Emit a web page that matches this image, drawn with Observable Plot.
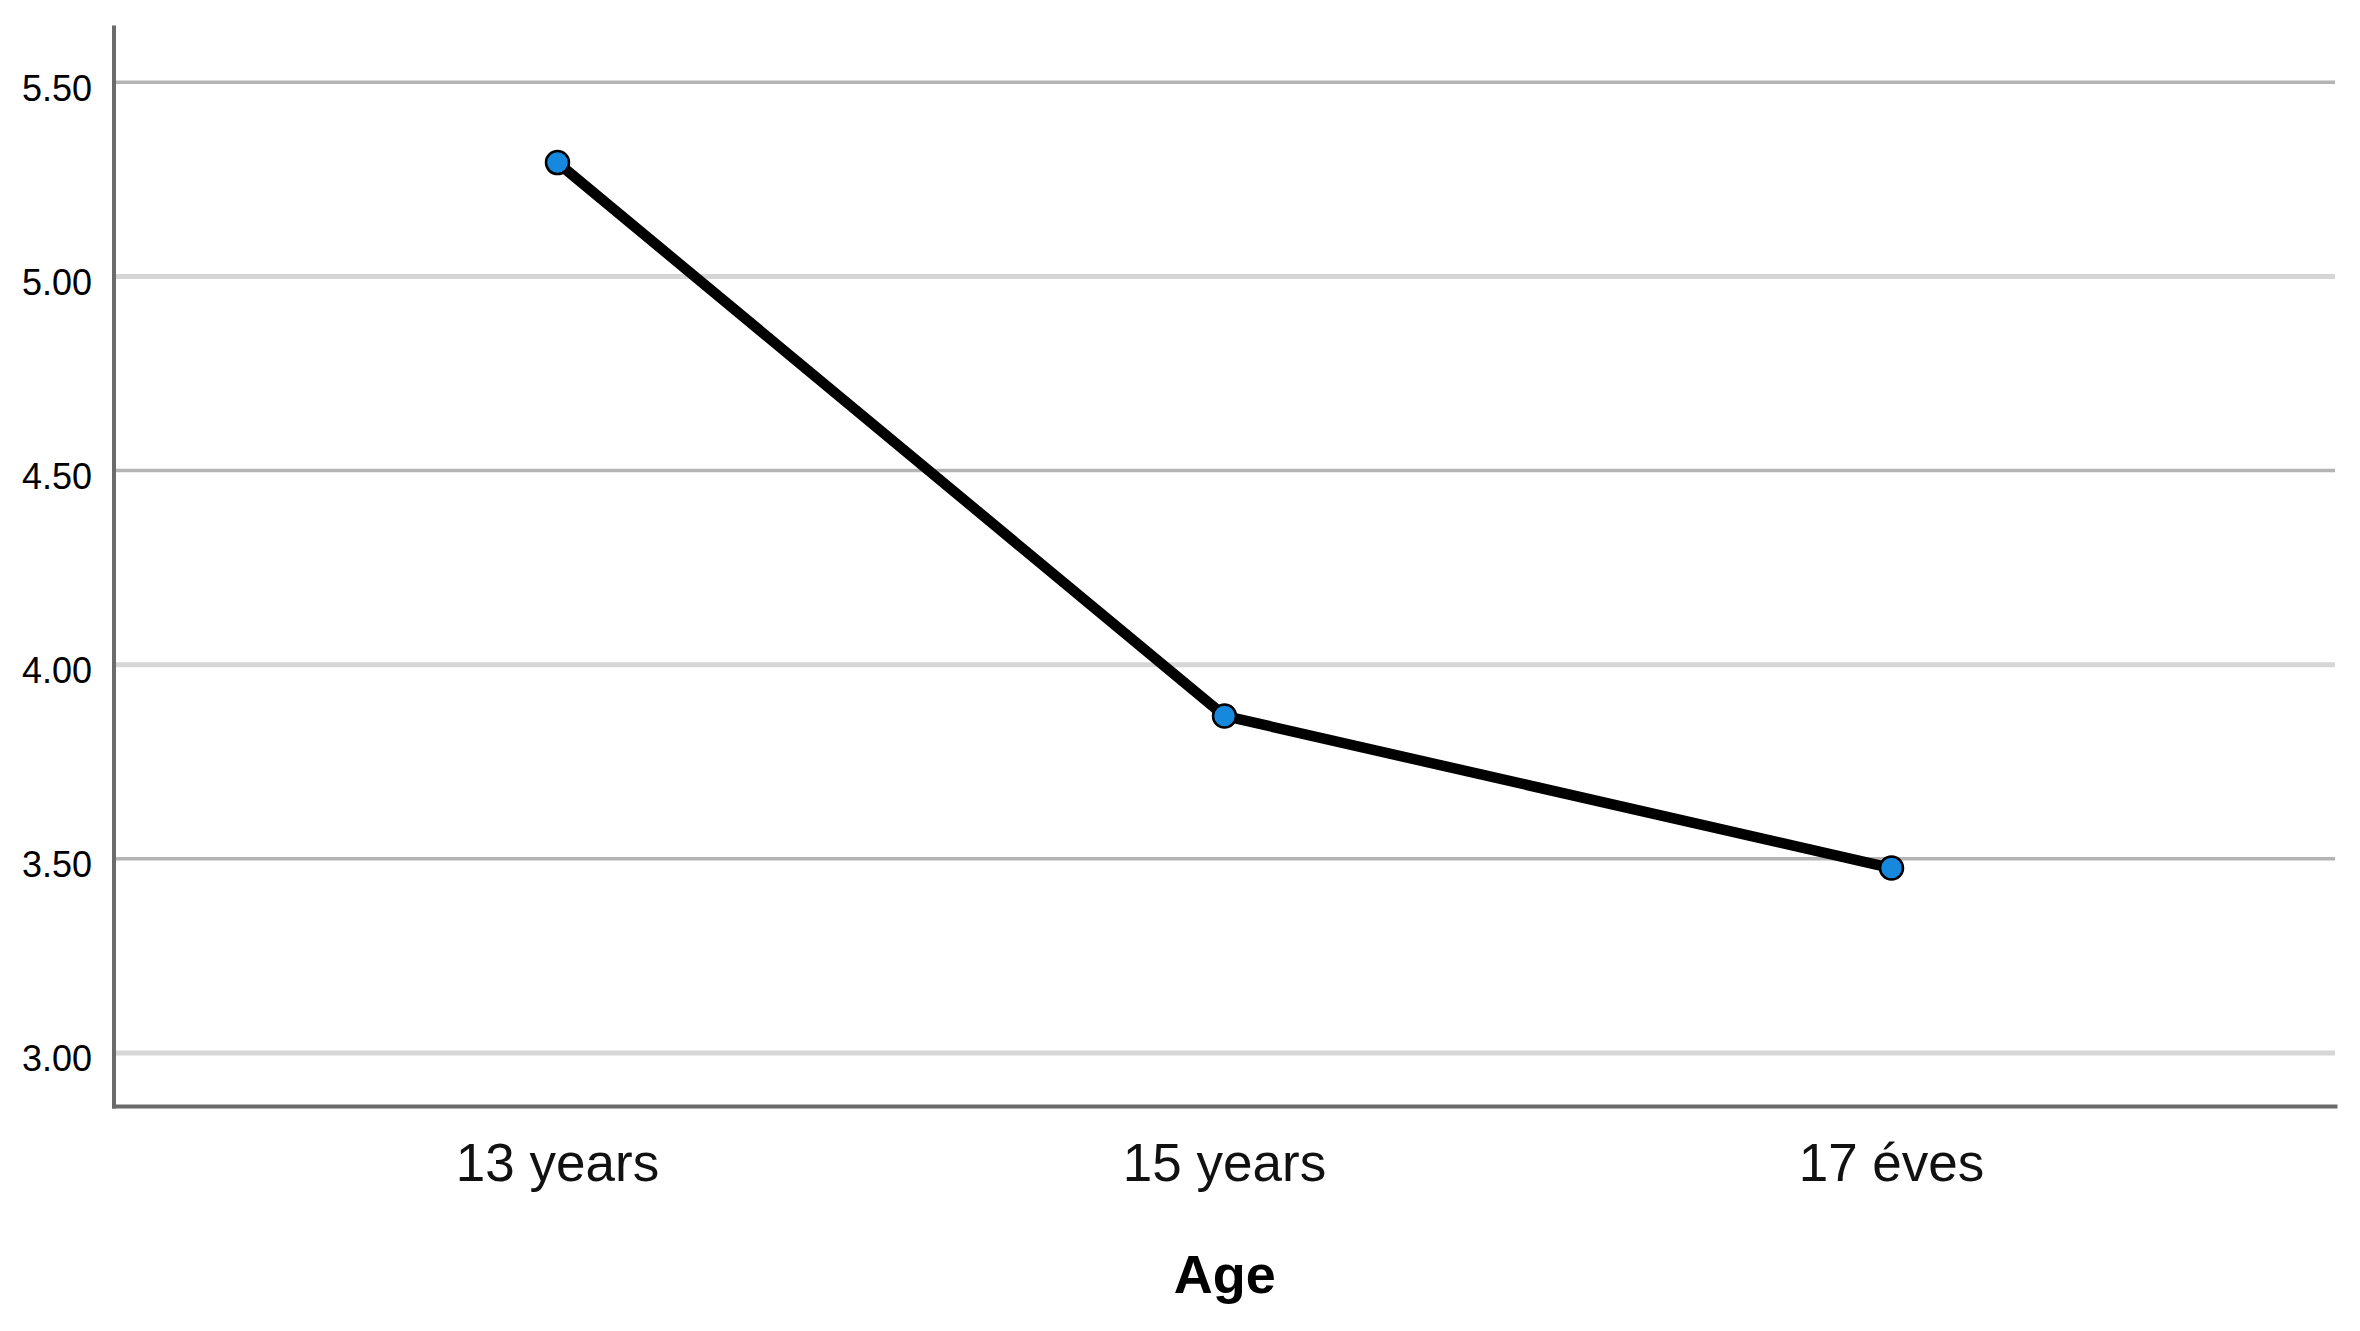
<!DOCTYPE html>
<html>
<head>
<meta charset="utf-8">
<script src="https://cdn.jsdelivr.net/npm/d3@7"></script>
<script src="https://cdn.jsdelivr.net/npm/@observablehq/plot@0.6"></script>
<style>
  html, body { margin: 0; padding: 0; background: #fff; }
  #chart svg { display: block; font-family: "Liberation Sans", Arial, sans-serif; }
</style>
</head>
<body>
<div id="chart"></div>
<script>
const ages = ["13 years", "15 years", "17 éves"];
const means = [5.293, 3.868, 3.476];
const yTicks = [3.0, 3.5, 4.0, 4.5, 5.0, 5.5];
const gridDark = [3.5, 4.5, 5.5];
const gridLight = [3.0, 4.0, 5.0];
const xTitle = "Age";

const data = ages.map((a, i) => ({age: a, mean: means[i]}));

const chart = Plot.plot({
  width: 2360,
  height: 1331,
  marginLeft: 113.5,
  marginRight: 25,
  marginTop: 27,
  marginBottom: 225,
  style: {background: "#fff", fontFamily: "Liberation Sans, Arial, sans-serif"},
  x: {type: "point", domain: ages, padding: 0.665},
  y: {domain: [2.862, 5.641]},
  marks: [
    Plot.ruleY(gridLight, {stroke: "#d6d6d6", strokeWidth: 5}),
    Plot.ruleY(gridDark, {stroke: "#b4b4b4", strokeWidth: 3.5}),
    Plot.axisY({ticks: yTicks, tickFormat: d3.format(".2f"), tickSize: 0, tickPadding: 22, fontSize: 36, label: null, dy: 7, fill: "#000"}),
    Plot.axisX({tickSize: 0, tickPadding: 37, fontSize: 53, label: null, fill: "#111"}),
    Plot.frame({anchor: "left", stroke: "#6b6b6b", strokeWidth: 4}),
    Plot.frame({anchor: "bottom", stroke: "#6b6b6b", strokeWidth: 4}),
    Plot.line(data, {x: "age", y: "mean", stroke: "#000", strokeWidth: 10.5}),
    Plot.dot(data, {x: "age", y: "mean", r: 11.5, fill: "#1688de", stroke: "#000", strokeWidth: 2.5}),
    Plot.text([xTitle], {frameAnchor: "bottom", dy: 169, text: d => d, fontSize: 54, fontWeight: "bold", fill: "#000", lineAnchor: "middle"})
  ]
});
document.getElementById("chart").appendChild(chart);
</script>
</body>
</html>
